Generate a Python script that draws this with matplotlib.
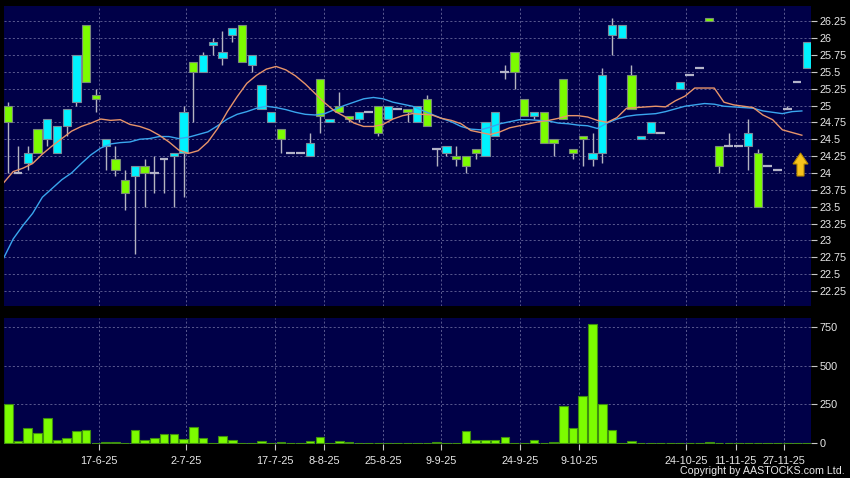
import matplotlib
matplotlib.use("Agg")
import matplotlib.pyplot as plt
import numpy as np
from matplotlib.patches import Polygon

plt.rcParams['font.family'] = ['Liberation Sans', 'DejaVu Sans']

# ---------------- data ----------------
opens = [25.00, 24.00, 24.15, 24.65, 24.50, 24.30, 24.70, 25.05, 26.20, 25.15,
         24.40, 24.20, 23.90, 23.95, 24.10, 24.00, 24.20, 24.25, 24.30, 25.65,
         25.50, 25.90, 25.70, 26.05, 26.20, 25.60, 24.95, 24.75, 24.65, 24.30,
         24.30, 24.25, 25.40, 24.75, 25.00, 24.85, 24.80, 24.90, 25.00, 24.80,
         24.95, 24.95, 24.75, 25.10, 24.35, 24.30, 24.25, 24.25, 24.35, 24.25,
         24.55, 25.50, 25.80, 25.10, 24.85, 24.90, 24.50, 25.40, 24.35, 24.55,
         24.20, 24.30, 26.05, 26.00, 25.45, 24.50, 24.60, 24.60, np.nan, 25.25,
         25.45, 25.55, 26.30, 24.40, 24.40, 24.40, 24.40, 24.30, 24.10, 24.05,
         24.95, 25.35, 25.55]
highs = [25.05, 24.40, 24.40, 24.65, 24.80, 24.70, 24.95, 25.75, 26.20, 25.25,
         24.50, 24.40, 24.05, 24.10, 24.20, 24.25, 24.20, 24.30, 25.00, 25.65,
         25.80, 26.00, 26.10, 26.15, 26.20, 25.75, 25.30, 24.90, 24.65, 24.30,
         24.30, 24.60, 25.40, 24.80, 25.20, 24.85, 24.90, 24.90, 25.00, 25.00,
         24.95, 24.95, 25.00, 25.15, 24.35, 24.40, 24.40, 24.25, 24.35, 24.75,
         24.90, 25.60, 25.80, 25.10, 24.90, 24.90, 24.50, 25.40, 24.35, 24.55,
         24.60, 25.55, 26.30, 26.20, 25.60, 24.55, 24.75, 24.60, np.nan, 25.35,
         25.45, 25.55, 26.30, 24.40, 24.60, 24.40, 24.80, 24.35, 24.10, 24.05,
         25.00, 25.35, 25.95]
lows = [24.00, 24.00, 24.05, 24.30, 24.40, 24.30, 24.55, 25.00, 25.35, 24.90,
        24.05, 23.95, 23.45, 22.80, 23.50, 23.70, 23.70, 23.50, 23.65, 24.75,
        25.50, 25.75, 25.60, 25.95, 25.65, 25.50, 24.95, 24.75, 24.30, 24.30,
        24.30, 24.25, 24.60, 24.75, 24.90, 24.75, 24.75, 24.90, 24.55, 24.80,
        24.95, 24.75, 24.75, 24.70, 24.10, 24.25, 24.10, 24.00, 24.20, 24.25,
        24.55, 25.40, 25.25, 24.85, 24.80, 24.45, 24.25, 24.80, 24.20, 24.10,
        24.10, 24.15, 25.75, 26.00, 24.95, 24.50, 24.60, 24.60, np.nan, 25.25,
        25.45, 25.55, 26.25, 24.00, 24.40, 24.40, 24.05, 23.50, 24.10, 24.05,
        24.95, 25.35, 25.55]
closes = [24.75, 24.00, 24.30, 24.30, 24.80, 24.70, 24.95, 25.75, 25.35, 25.10,
          24.50, 24.05, 23.70, 24.10, 24.00, 24.00, 24.20, 24.30, 24.90, 25.50,
          25.75, 25.95, 25.80, 26.15, 25.65, 25.75, 25.30, 24.90, 24.50, 24.30,
          24.30, 24.45, 24.85, 24.80, 24.90, 24.80, 24.90, 24.90, 24.60, 25.00,
          24.95, 24.90, 25.00, 24.70, 24.35, 24.40, 24.20, 24.10, 24.30, 24.75,
          24.90, 25.50, 25.50, 24.85, 24.90, 24.45, 24.45, 24.80, 24.30, 24.50,
          24.30, 25.45, 26.20, 26.20, 24.95, 24.55, 24.75, 24.60, np.nan, 25.35,
          25.45, 25.55, 26.25, 24.10, 24.40, 24.40, 24.60, 23.50, 24.10, 24.05,
          24.95, 25.35, 25.95]
volumes = [255, 13, 100, 65, 163, 22, 37, 76, 87, 0,
           7, 7, 2, 87, 22, 37, 57, 57, 30, 107,
           37, 0, 48, 20, 2, 4, 15, 0, 8, 0,
           0, 12, 39, 0, 16, 7, 0, 0, 0, 2,
           0, 0, 2, 0, 7, 0, 0, 80, 21, 19,
           19, 39, 2, 2, 19, 2, 7, 239, 98, 302,
           770, 254, 85, 2, 17, 1, 0, 0, 0, 0,
           0, 0, 7, 0, 2, 0, 0, 0, 0, 0,
           0, 0, 0]

# moving averages (one value per session, starting with the session before the first shown)
ma_short = [23.85, 24.02, 24.07, 24.14, 24.28, 24.40, 24.51, 24.62, 24.69, 24.74,
            24.80, 24.78, 24.79, 24.72, 24.69, 24.64, 24.56, 24.46, 24.34, 24.29,
            24.33, 24.46, 24.66, 24.91, 25.13, 25.33, 25.45, 25.54, 25.58, 25.53,
            25.44, 25.32, 25.18, 25.04, 24.92, 24.84, 24.74, 24.69, 24.69, 24.72,
            24.80, 24.85, 24.88, 24.87, 24.86, 24.81, 24.78, 24.73, 24.63, 24.60,
            24.57, 24.61, 24.67, 24.70, 24.73, 24.76, 24.78, 24.81, 24.85, 24.85,
            24.83, 24.78, 24.75, 24.82, 24.96, 24.97, 24.98, 24.99, 24.98, 25.07,
            25.14, 25.26, 25.26, 25.26, 25.05, 25.01, 24.99, 24.97, 24.86, 24.79,
            24.64, 24.60, 24.56]
ma_long = [22.73, 23.02, 23.22, 23.40, 23.64, 23.77, 23.90, 24.00, 24.14, 24.27,
           24.37, 24.43, 24.45, 24.46, 24.50, 24.51, 24.54, 24.54, 24.51, 24.53,
           24.57, 24.61, 24.70, 24.80, 24.87, 24.91, 24.96, 24.99, 24.97, 24.94,
           24.90, 24.87, 24.86, 24.88, 24.94, 25.00, 25.05, 25.10, 25.12, 25.10,
           25.05, 25.02, 24.99, 24.93, 24.87, 24.81, 24.76, 24.69, 24.65, 24.64,
           24.68, 24.73, 24.76, 24.79, 24.79, 24.78, 24.77, 24.74, 24.73, 24.71,
           24.70, 24.66, 24.74, 24.80, 24.84, 24.86, 24.87, 24.88, 24.91, 24.95,
           24.99, 25.01, 25.03, 25.02, 24.99, 24.98, 24.97, 24.96, 24.92, 24.90,
           24.88, 24.91, 24.92]

date_labels = ["17-6-25", "2-7-25", "17-7-25", "8-8-25", "25-8-25", "9-9-25",
               "24-9-25", "9-10-25", "24-10-25", "11-11-25", "27-11-25"]
date_pos = [9.3, 18.3, 27.35, 32.45, 38.47, 44.45, 52.53, 58.62, 69.65, 74.7, 79.7]

price_ticks = [22.25, 22.5, 22.75, 23, 23.25, 23.5, 23.75, 24, 24.25, 24.5,
               24.75, 25, 25.25, 25.5, 25.75, 26, 26.25]
vol_ticks = [0, 250, 500, 750]

# ---------------- style ----------------
BG = '#000048'
GRID = '#66669a'
UP = '#00f2ff'
DOWN = '#7cfc00'
TXT = '#e8e8e8'

o = np.array(opens); h = np.array(highs); l = np.array(lows); c = np.array(closes)
x = np.arange(len(o))
valid = ~np.isnan(o)

fig = plt.figure(figsize=(8.5, 4.78), dpi=100, facecolor='black')
ax = fig.add_axes([4/850, 1-306/478, 807/850, 300/478])
axv = fig.add_axes([4/850, 1-444/478, 807/850, 125.7/478])

for a in (ax, axv):
    a.set_facecolor(BG)
    for s in a.spines.values():
        s.set_visible(False)
    a.set_xlim(-0.44, 82.44)
    a.set_xticks(date_pos)
    a.yaxis.tick_right()
    a.tick_params(axis='y', colors='#c8c8c8', labelcolor=TXT, length=4, width=0.8,
                  pad=2, labelsize=7.8, direction='out')
    a.grid(True, color=GRID, linestyle=(0, (2.5, 2.5)), linewidth=0.6)
    a.set_axisbelow(True)

# ---- price panel ----
ax.set_ylim(22.026, 26.477)
ax.set_yticks(price_ticks)
ax.set_yticklabels([f"{t:g}" for t in price_ticks])
ax.tick_params(axis='x', length=0, labelbottom=False)

# wicks
wv = valid & (h > l)
ax.vlines(x[wv], l[wv], h[wv], color='#b4b4c0', linewidth=1.0, zorder=2)
# bodies
up = valid & (c > o)
dn = valid & (c < o)
fl = valid & (c == o)
ax.bar(x[up], (c - o)[up], bottom=o[up], width=0.85, color=UP,
       edgecolor='#7a8a9a', linewidth=0.8, zorder=3)
ax.bar(x[dn], (o - c)[dn], bottom=c[dn], width=0.85, color=DOWN,
       edgecolor='#7a8a7a', linewidth=0.8, zorder=3)
ax.hlines(o[fl], x[fl] - 0.45, x[fl] + 0.45, color='#b4b4c8', linewidth=1.6, zorder=3)

# moving averages
xm = np.arange(-1, len(ma_short) - 1) + 0.5
ax.plot(xm, ma_long, color='#3aa6ee', linewidth=1.0, zorder=4)
ax.plot(xm, ma_short, color='#e8946a', linewidth=1.0, zorder=4)

# yellow arrow icon
def fx(px):
    return (px - 4) / 807
def fy(py):
    return (306 - py) / 300
arrow = Polygon([(fx(800.5), fy(153)), (fx(808), fy(164)), (fx(804), fy(164)),
                 (fx(804), fy(176)), (fx(797), fy(176)), (fx(797), fy(164)),
                 (fx(793), fy(164))], closed=True, transform=ax.transAxes,
                facecolor='#f6c21c', edgecolor='#b88a00', linewidth=0.8, zorder=5)
ax.add_patch(arrow)

# ---- volume panel ----
axv.set_ylim(-4.5, 805)
axv.set_yticks(vol_ticks)
axv.set_yticklabels([str(v) for v in vol_ticks])
axv.bar(x, volumes, width=0.88, color=DOWN, edgecolor='#3f8f10', linewidth=0.8, zorder=3)
axv.set_xticklabels(date_labels)
axv.tick_params(axis='x', colors='#c8c8c8', labelcolor=TXT, length=4, width=0.8,
                pad=5, labelsize=7.8, direction='out')

fig.text(845/850, 1 - 471/478, "Copyright by AASTOCKS.com Ltd.", color=TXT,
         fontsize=7.7, ha='right', va='center')

fig.savefig("out.png", dpi=100, facecolor='black')
